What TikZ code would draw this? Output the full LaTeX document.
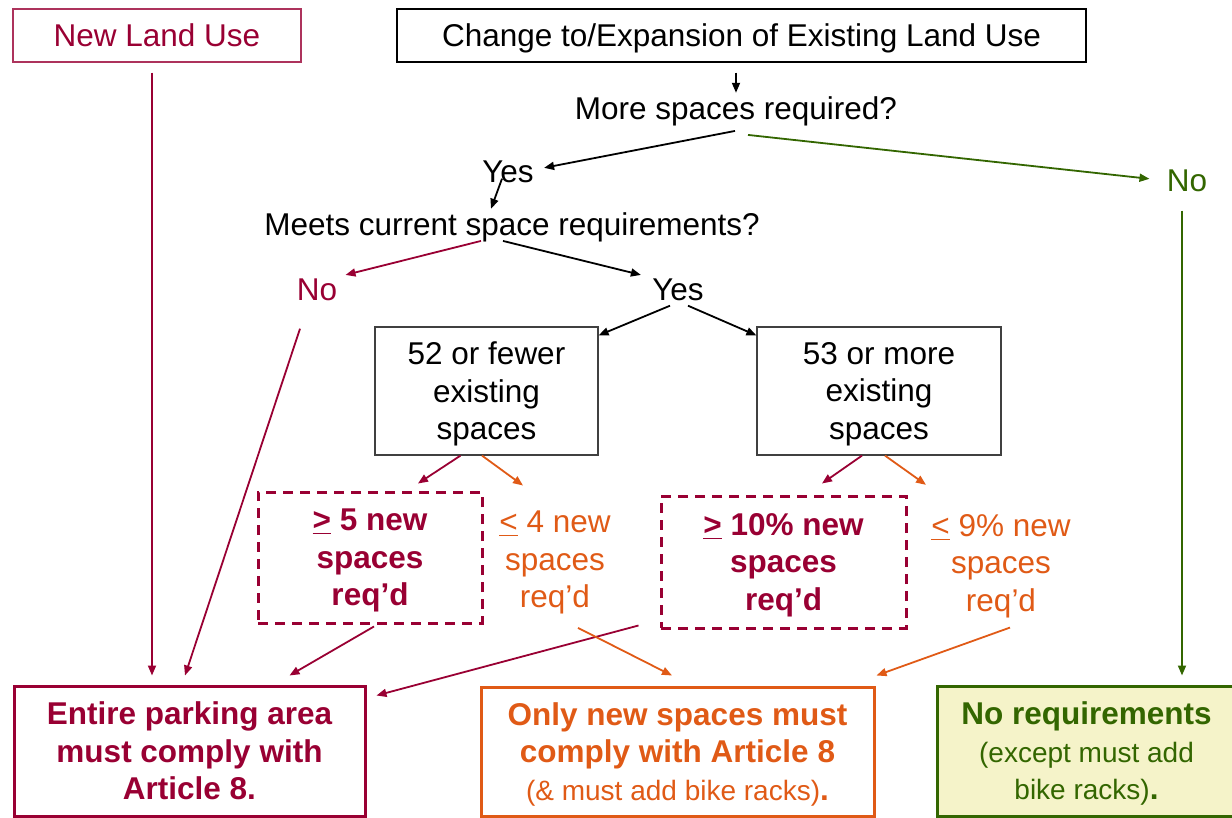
\documentclass[tikz,border=0pt]{standalone}
\usepackage{fontspec}
\setmainfont{Liberation Sans}
\usetikzlibrary{arrows.meta}
\definecolor{maroon}{RGB}{153,0,51}
\definecolor{rust}{RGB}{224,90,22}
\definecolor{leaf}{RGB}{51,102,0}
\definecolor{cream}{RGB}{245,243,201}
\newcommand{\smalltext}{\fontsize{14}{17}\selectfont\mdseries}

\begin{document}
\begin{tikzpicture}[x=0.5pt,y=-0.5pt,
  every node/.style={font=\fontsize{15.75}{18.75}\selectfont, inner sep=2pt},
  lbl/.style={anchor=base},
  arr/.style={-{Triangle[length=5pt,width=4pt]}, line width=0.9pt},
  topbox/.style={draw, line width=0.6pt, minimum height=26.5pt, text depth=0pt},
  qbox/.style={draw=black!75, line width=0.6pt, align=center, minimum height=64pt, text depth=0pt},
  dbox/.style={draw=maroon, line width=1.5pt, dash pattern=on 5pt off 3.5pt, align=center,
    text=maroon, text depth=0pt, font=\fontsize{15.75}{18.75}\selectfont\bfseries},
  endbox/.style={draw, line width=1.5pt, align=center, minimum height=65pt, text depth=0pt,
    font=\fontsize{15.75}{18.75}\selectfont\bfseries}]
\useasboundingbox (0,0) rectangle (1232,818);
% top row
\node[topbox, draw=maroon!80, text=maroon, minimum width=144pt] (newuse) at (157,35.5) {New Land Use};
\node[topbox, minimum width=344.5pt] (change) at (741.5,35.5) {Change to/Expansion of Existing Land Use};
% questions and answers
\node[lbl] (more) at (736,120) {More spaces required?};
\node[lbl] (yes1) at (508,183) {Yes};
\node[lbl, text=leaf] (nog) at (1187,192) {No};
\node[lbl] (meets) at (512,236) {Meets current space requirements?};
\node[lbl, text=maroon] (nom) at (317,301) {No};
\node[lbl] (yes2) at (678,301) {Yes};
% existing spaces
\node[qbox, minimum width=111.5pt] (few) at (486.5,391) {52 or fewer\\existing\\spaces};
\node[qbox, minimum width=122pt] (many) at (879,391) {53 or more\\existing\\spaces};
% new spaces
\node[dbox, minimum width=112pt, minimum height=65.5pt] (ge5) at (370,557.5) {\underline{>} 5 new\\spaces\\req’d};
\node[text=rust, align=center] (le4) at (555,562.5) {\underline{<} 4 new\\spaces\\req’d};
\node[dbox, minimum width=122.5pt, minimum height=66pt] (ge10) at (783.5,562) {\underline{>} 10\% new\\spaces\\req’d};
\node[text=rust, align=center] (le9) at (1001,566) {\underline{<} 9\% new\\spaces\\req’d};
% outcomes
\node[endbox, draw=maroon, text=maroon, minimum width=175.5pt] (entire) at (189.5,751) {Entire parking area\\must comply with\\Article 8.};
\node[endbox, draw=rust, text=rust, minimum width=196.5pt, minimum height=64.5pt] (onlynew) at (677.5,751.5) {Only new spaces must\\comply with Article 8\\{\smalltext(\& must add bike racks)}.};
\node[endbox, draw=leaf, fill=cream, text=leaf, minimum width=149.5pt] (noreq) at (1086.5,751) {No requirements\\{\smalltext(except must add}\\{\smalltext bike racks)}.};
% connectors
\draw[arr, shorten <=5pt] (change.south -| more) -- (more.north);
\draw[arr] ([xshift=-0.5pt]more.south) -- ([xshift=3pt,yshift=2.25pt]yes1.east);
\draw[arr, leaf] ([xshift=6pt,yshift=-2pt]more.south) -- ([xshift=-6.5pt,yshift=1.25pt]nog.west);
\draw[arr] ([xshift=-3pt,yshift=4.5pt]yes1.south) -- ([xshift=-10.5pt]meets.north);
\draw[arr, maroon] ([xshift=-15.5pt,yshift=3pt]meets.south) -- ([xshift=2pt]nom.north east);
\draw[arr] ([xshift=-4.5pt,yshift=3pt]meets.south) -- ([xshift=-3.5pt]yes2.north west);
\draw[arr] ([xshift=-4pt]yes2.south) -- ([yshift=-4.5pt]few.north east);
\draw[arr] ([xshift=5pt]yes2.south) -- ([yshift=-4.5pt]many.north west);
\draw[arr, maroon] ([xshift=-13pt]few.south) -- ([xshift=24pt,yshift=3.5pt]ge5.north);
\draw[arr, rust] ([xshift=-2.25pt]few.south) -- ([xshift=-16pt,yshift=10.5pt]le4.north);
\draw[arr, maroon] ([xshift=-8.5pt]many.south) -- ([xshift=19.25pt,yshift=5.5pt]ge10.north);
\draw[arr, rust] ([xshift=3pt]many.south) -- ([xshift=-37.5pt,yshift=12.5pt]le9.north);
\draw[arr, maroon] ([xshift=-2.5pt,yshift=-5pt]newuse.south) -- ([xshift=-18.75pt,yshift=4.5pt]entire.north);
\draw[arr, maroon] ([xshift=-8.5pt,yshift=-11.5pt]nom.south) -- ([xshift=-2.25pt,yshift=4.5pt]entire.north);
\draw[arr, maroon] ([xshift=2pt,yshift=-1pt]ge5.south) -- ([xshift=50pt,yshift=4.5pt]entire.north);
\draw[arr, maroon] ([xshift=-10.5pt,yshift=2pt]ge10.south west) -- ([xshift=5pt,yshift=-5.5pt]entire.north east);
\draw[arr, rust] ([xshift=11.5pt,yshift=-4.7pt]le4.south) -- ([xshift=-2.75pt,yshift=5pt]onlynew.north);
\draw[arr, rust] ([xshift=4.5pt,yshift=-2.7pt]le9.south) -- ([xshift=0.5pt,yshift=5pt]onlynew.north east);
\draw[arr, leaf] ([xshift=-2.5pt,yshift=-7pt]nog.south) -- ([xshift=47.75pt,yshift=4.5pt]noreq.north);
\end{tikzpicture}
\end{document}
